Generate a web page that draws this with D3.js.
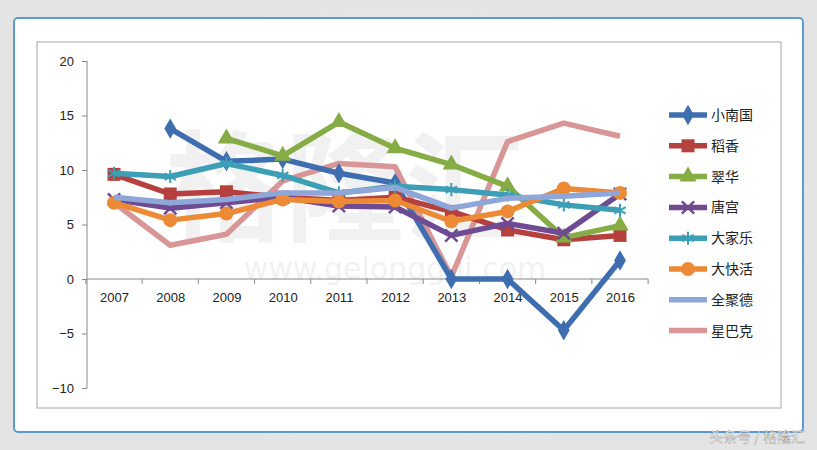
<!DOCTYPE html>
<html><head><meta charset="utf-8">
<script src="https://cdn.jsdelivr.net/npm/d3@7"></script>
<style>body{margin:0;background:#f2f2f2;font-family:"Noto Sans CJK SC","Noto Sans",sans-serif}</style>
</head><body><svg id="c" width="817" height="450"></svg>
<script>
const years = ["2007","2008","2009","2010","2011","2012","2013","2014","2015","2016"];
const yTicks = [-10,-5,0,5,10,15,20];
const names = ["小南国","稻香","翠华","唐宫","大家乐","大快活","全聚德","星巴克"];
const colors = ["#3e6eb0","#b5403d","#86ac45","#6e4b93","#3d9fb6","#ec8a36","#8fa6d8","#d99696"];
const markers = ["diamond","square","triangle","x","star","circle","none","none"];
const xiaonanguo = [null,13.8,10.8,11.0,9.7,8.8,0,0,-4.7,1.7];
const daoxiang = [9.6,7.8,8.0,7.5,7.2,7.5,6.2,4.5,3.6,4.0];
const cuihua = [null,null,12.9,11.3,14.4,12.0,10.5,8.5,3.8,4.9];
const tanggong = [7.3,6.5,7.0,7.5,6.7,6.6,4.0,5.1,4.2,7.8];
const dajiale = [9.7,9.4,10.6,9.5,7.9,8.5,8.2,7.7,6.8,6.3];
const dakuaihuo = [7.0,5.4,6.0,7.3,7.1,7.2,5.3,6.2,8.3,7.9];
const quanjude = [7.5,7.0,7.3,7.9,7.9,8.4,6.5,7.4,7.6,7.9];
const starbucks = [7.0,3.1,4.1,9.0,10.6,10.3,0.2,12.6,14.3,13.1];
const series = [xiaonanguo,daoxiang,cuihua,tanggong,dajiale,dakuaihuo,quanjude,starbucks];

const svg = d3.select("#c");
const bg = svg.append("defs").append("radialGradient").attr("id","bg");
bg.append("stop").attr("offset","0").attr("stop-color","#fafafa");
bg.append("stop").attr("offset","1").attr("stop-color","#e4e4e4");
svg.append("rect").attr("width",817).attr("height",450).attr("fill","url(#bg)");
svg.append("rect").attr("x",14).attr("y",18).attr("width",789).attr("height",414).attr("rx",4)
  .attr("fill","#fff").attr("stroke","#5b9bd5").attr("stroke-width",2);
svg.append("rect").attr("x",37).attr("y",42).attr("width",744).attr("height",366)
  .attr("fill","#fff").attr("stroke","#a6a6a6");

// watermark
svg.append("text").attr("x",345).attr("y",232).attr("text-anchor","middle").attr("font-size",120)
  .attr("fill","#000").attr("opacity",0.05).attr("font-weight",700).text("格隆汇");
svg.append("text").attr("x",395).attr("y",279).attr("text-anchor","middle").attr("font-size",30)
  .attr("fill","#000").attr("opacity",0.05).attr("font-family","DejaVu Sans").text("www.gelonggui.com");

const x = d3.scalePoint().domain(years).range([114,620]).padding(0);
const y = d3.scaleLinear().domain([-10,20]).range([388,61]);

const ya = svg.append("g").attr("transform","translate(87,0)")
  .call(d3.axisLeft(y).tickValues(yTicks).tickSize(5).tickPadding(8));
ya.selectAll("text").attr("font-size",13).attr("fill","#222").attr("font-family","Liberation Sans");
ya.selectAll("line,path").attr("stroke","#888");
ya.select(".domain").attr("d","M0,388V61");
const step = x.step();
const xa = svg.append("g").attr("transform",`translate(0,${y(0)})`)
  .call(d3.axisBottom(x).tickSize(0).tickPadding(14));
xa.select(".domain").attr("d",`M87,0H${620+step/2}`).attr("stroke","#888");
xa.selectAll("text").attr("font-size",13).attr("fill","#222").attr("font-family","Liberation Sans");
xa.selectAll(".tk").data(d3.range(years.length+1)).join("line")
  .attr("x1",i=>x(years[0])-step/2+i*step).attr("x2",i=>x(years[0])-step/2+i*step)
  .attr("y1",0).attr("y2",5).attr("stroke","#888");

const line = d3.line().defined(d=>d!=null).x((d,i)=>x(years[i])).y(d=>y(d));
function marker(g,type,c,cx,cy){
  if(type==="diamond") g.append("path").attr("d",d3.symbol(d3.symbolDiamond,120)()).attr("transform",`translate(${cx},${cy})`).attr("fill",c);
  else if(type==="square") g.append("rect").attr("x",cx-6.5).attr("y",cy-6.5).attr("width",13).attr("height",13).attr("fill",c);
  else if(type==="triangle") g.append("path").attr("d",d3.symbol(d3.symbolTriangle,130)()).attr("transform",`translate(${cx},${cy})`).attr("fill",c);
  else if(type==="circle") g.append("circle").attr("cx",cx).attr("cy",cy).attr("r",7).attr("fill",c);
  else if(type==="x") g.append("path").attr("d",d3.symbol(d3.symbolX,100)()).attr("transform",`translate(${cx},${cy})`).attr("stroke",c).attr("stroke-width",2.5).attr("fill","none");
  else if(type==="star") g.append("path").attr("d",d3.symbol(d3.symbolAsterisk,120)()).attr("transform",`translate(${cx},${cy})`).attr("stroke",c).attr("stroke-width",2).attr("fill","none");
}
const order = [7,0,1,2,3,4,5,6];
order.forEach(k=>{
  const g = svg.append("g");
  g.append("path").datum(series[k]).attr("d",line).attr("fill","none").attr("stroke",colors[k])
    .attr("stroke-width",5.5).attr("stroke-linejoin","round");
  series[k].forEach((v,i)=>{ if(v!=null) marker(g,markers[k],colors[k],x(years[i]),y(v)); });
});

const lg = svg.append("g");
names.forEach((n,k)=>{
  const cy = 115 + k*30.8;
  lg.append("line").attr("x1",669).attr("x2",707).attr("y1",cy).attr("y2",cy).attr("stroke",colors[k]).attr("stroke-width",5.5);
  marker(lg,markers[k],colors[k],688,cy);
  lg.append("text").attr("x",711).attr("y",cy+5).attr("font-size",14).attr("fill","#222").text(n);
});
svg.append("text").attr("x",805).attr("y",442).attr("text-anchor","end").attr("font-size",14)
  .attr("fill","#fff").attr("stroke","#999").attr("stroke-width",0.4).text("头条号 / 格隆汇");
</script></body></html>
